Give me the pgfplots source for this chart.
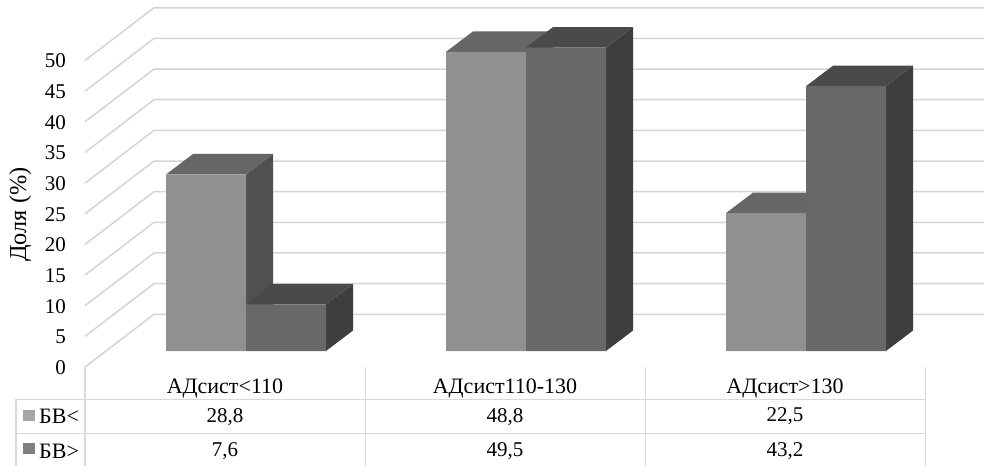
\documentclass[border=0pt]{standalone}
\usepackage{pgfplots}
\pgfplotsset{compat=1.18}
\usepackage{fontspec}
\setmainfont{Liberation Serif}
\newcommand\fs{\fontsize{21}{24}\selectfont}
\definecolor{gridc}{HTML}{D4D4D4}
\definecolor{tabc}{HTML}{D9D9D9}
\definecolor{fa}{HTML}{909090}
\definecolor{ta}{HTML}{666666}
\definecolor{sa}{HTML}{505050}
\definecolor{fb}{HTML}{686868}
\definecolor{tb}{HTML}{4A4A4A}
\definecolor{sb}{HTML}{3E3E3E}
\pgfplotsset{base/.style={scale only axis,width=984pt,height=466pt,at={(0,0)},anchor=south west,xmin=0,xmax=984,clip=false}}
\begin{document}
\begin{tikzpicture}
\useasboundingbox (0,0) rectangle (984pt,466pt);
% axis A: front plane of the value scale, walls, data table
\begin{axis}[base,ymin=-16.15,ymax=59.87,
  axis line style={draw=none},major tick length=0pt,tick style={draw=none},
  /pgf/number format/assume math mode=true,
  ytick={0,5,10,15,20,25,30,35,40,45,50},
  xtick={225,505,785},
  xticklabels={АДсист<110,АДсист110-130,АДсист>130},
  ticklabel style={font=\fs,inner sep=0pt},
  yticklabel style={anchor=east,xshift=66pt,yshift=-0.5pt},
  xticklabel style={anchor=center,yshift=77.5pt,font=\fontsize{22}{24}\selectfont},
  ylabel={Доля (\%)},
  every axis y label/.style={at={(axis description cs:0.0205,0.5395)},rotate=90,anchor=center,font=\fontsize{24.3}{26}\selectfont,inner sep=0pt},
]
% gridlines: floor and back wall
\pgfplotsinvokeforeach{0,5,...,50}{
  \addplot[gridc,line width=1.5pt] coordinates {(85,#1) (154,#1+8.6) (984,#1+8.6)};
}
% table
\addplot[tabc,line width=1.3pt] coordinates {(16,-5.25) (926,-5.25)};
\addplot[tabc,line width=1.3pt] coordinates {(16,-10.9) (926,-10.9)};
\addplot[tabc,line width=1.3pt] coordinates {(16,-5.25) (16,-16.15)};
\addplot[tabc,line width=1.3pt] coordinates {(85,0) (85,-16.15)};
\addplot[tabc,line width=1.3pt] coordinates {(365.7,0) (365.7,-16.15)};
\addplot[tabc,line width=1.3pt] coordinates {(645.7,0) (645.7,-16.15)};
\addplot[tabc,line width=1.3pt] coordinates {(925.7,0) (925.7,-16.15)};
% legend keys
\addplot[fill=black!35,draw=none] coordinates {(23,-7.01) (35,-7.01) (35,-8.81) (23,-8.81)} --cycle;
\addplot[fill=black!50,draw=none] coordinates {(23,-12.46) (35,-12.46) (35,-14.25) (23,-14.25)} --cycle;
\node[font=\fontsize{22}{24}\selectfont,anchor=west,inner sep=0pt] at (axis cs:39,-8.1) {БВ<};
\node[font=\fontsize{22}{24}\selectfont,anchor=west,inner sep=0pt] at (axis cs:39,-13.7) {БВ>};
\node[font=\fs,inner sep=0pt] at (axis cs:225,-8.1) {28,8};
\node[font=\fs,inner sep=0pt] at (axis cs:505,-8.1) {48,8};
\node[font=\fs,inner sep=0pt] at (axis cs:785,-8.1) {22,5};
\node[font=\fs,inner sep=0pt] at (axis cs:225,-13.7) {7,6};
\node[font=\fs,inner sep=0pt] at (axis cs:505,-13.7) {49,5};
\node[font=\fs,inner sep=0pt] at (axis cs:785,-13.7) {43,2};
\end{axis}
% axis B: the bars, values read directly
\begin{axis}[base,ymin=-18.76,ymax=57.26,hide axis]
% series 1: side and top faces
\addplot[fill=sa,draw=none] coordinates {(246,0) (273,3.34) (273,32.14) (246,28.8)} --cycle;
\addplot[fill=ta,draw=none] coordinates {(166,28.8) (246,28.8) (273,32.14) (193,32.14)} --cycle;
\addplot[fill=sa,draw=none] coordinates {(526,0) (553,3.34) (553,52.14) (526,48.8)} --cycle;
\addplot[fill=ta,draw=none] coordinates {(446,48.8) (526,48.8) (553,52.14) (473,52.14)} --cycle;
\addplot[fill=sa,draw=none] coordinates {(806,0) (833,3.34) (833,25.84) (806,22.5)} --cycle;
\addplot[fill=ta,draw=none] coordinates {(726,22.5) (806,22.5) (833,25.84) (753,25.84)} --cycle;
% series 1: front faces
\addplot[ybar,bar width=80,bar shift=0,fill=fa,draw=none] coordinates {(206,28.8) (486,48.8) (766,22.5)};
% series 2: side and top faces
\addplot[fill=sb,draw=none] coordinates {(326,0) (353,3.34) (353,10.94) (326,7.6)} --cycle;
\addplot[fill=tb,draw=none] coordinates {(246,7.6) (326,7.6) (353,10.94) (273,10.94)} --cycle;
\addplot[fill=sb,draw=none] coordinates {(606,0) (633,3.34) (633,52.84) (606,49.5)} --cycle;
\addplot[fill=tb,draw=none] coordinates {(526,49.5) (606,49.5) (633,52.84) (553,52.84)} --cycle;
\addplot[fill=sb,draw=none] coordinates {(886,0) (913,3.34) (913,46.54) (886,43.2)} --cycle;
\addplot[fill=tb,draw=none] coordinates {(806,43.2) (886,43.2) (913,46.54) (833,46.54)} --cycle;
% series 2: front faces
\addplot[ybar,bar width=80,bar shift=0,fill=fb,draw=none] coordinates {(286,7.6) (566,49.5) (846,43.2)};
\end{axis}
\end{tikzpicture}
\end{document}
